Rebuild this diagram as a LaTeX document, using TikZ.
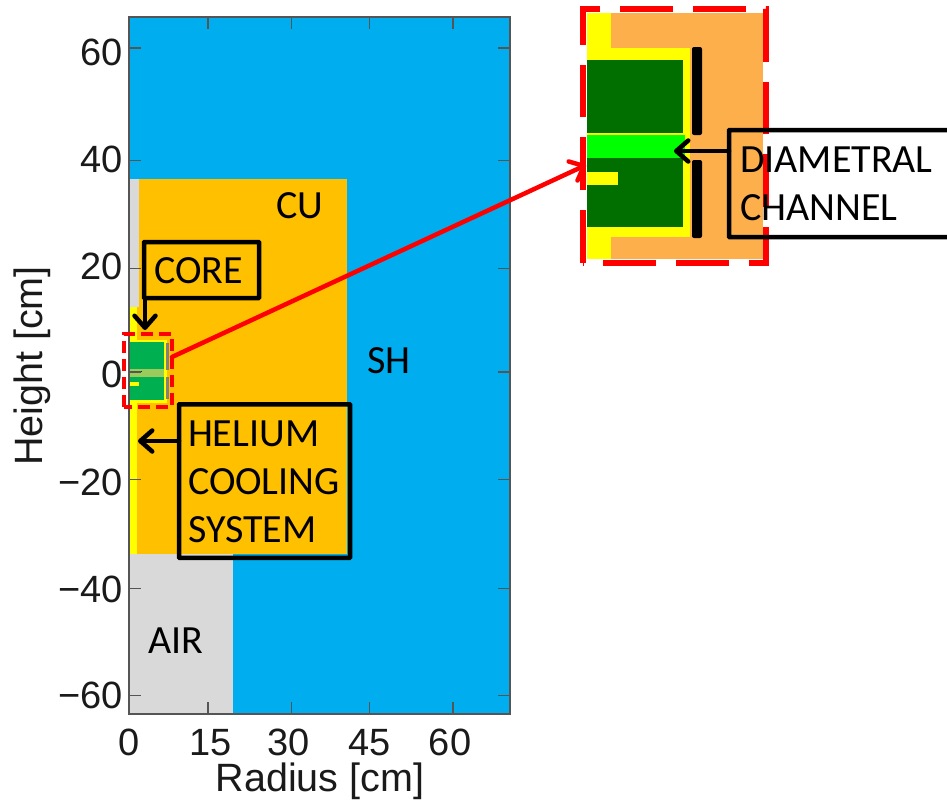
\documentclass[tikz,border=0pt]{standalone}
\usepackage{fontspec}
\setmainfont{Liberation Sans}
\newfontfamily\callout{Carlito}
\usetikzlibrary{arrows.meta}
\definecolor{shblue}{HTML}{00ADEF}
\definecolor{cuorange}{HTML}{FFC000}
\definecolor{airgrey}{HTML}{D9D9D9}
\definecolor{coregreen}{HTML}{00B050}
\definecolor{bandgreen}{HTML}{9CCB5C}
\definecolor{insetorange}{HTML}{FDAF4C}
\definecolor{insetgreen}{HTML}{006F00}
\definecolor{brightgreen}{HTML}{00FF00}
\definecolor{pureyellow}{HTML}{FFFF00}
\definecolor{purered}{HTML}{FF0000}
\definecolor{axisgrey}{HTML}{555555}
\definecolor{textdark}{HTML}{1A1A1A}
\newcommand\calline[1]{\smash{\raisebox{-13pt}{#1}}}
\tikzset{
  axis text/.style={font=\fontsize{38}{38}\selectfont, text=textdark, inner sep=0pt, outer sep=0pt},
  title text/.style={font=\fontsize{39.5}{40}\selectfont, text=textdark, inner sep=0pt, outer sep=0pt},
  ylab/.style={axis text, anchor=base east},
  xlab/.style={axis text, anchor=base},
  region text/.style={font=\callout\fontsize{40}{48}\selectfont, text=black, inner sep=0pt, anchor=base west},
  callbox/.style={draw=black, line width=4.5pt, rounded corners=0.5pt, inner sep=0pt, outer sep=0pt, align=left,
     font=\callout\fontsize{40}{48}\selectfont},
  callarrow/.style={draw=black, line width=4.5pt, line cap=round, -{Straight Barb[length=12pt,width=21pt,round]}},
  tick line/.style={draw=axisgrey, line width=1.2pt},
}
\begin{document}
\begin{tikzpicture}[x=1pt,y=-1pt]
\useasboundingbox (0,0) rectangle (947,803);
\fill[white] (0,0) rectangle (947,803);
% regions
\fill[shblue] (129,17) rectangle (510,714);
\fill[airgrey] (129,554) rectangle (233,714);
\fill[airgrey] (129,179) rectangle (139,307);
\fill[airgrey] (129,307) rectangle (130,554);
\fill[cuorange] (139,179) rectangle (347,307);
\fill[cuorange] (137,307) rectangle (347,554);
\fill[pureyellow] (130,307) rectangle (137,554);
% core (small)
\fill[pureyellow] (130,340) rectangle (166.5,402.5);
\fill[coregreen] (130,342) rectangle (164,400);
\fill[bandgreen] (130,369) rectangle (164,377);
\fill[pureyellow] (130,382) rectangle (139,386);
\draw[insetgreen!60!black, line width=0.8pt] (130,371) -- (142,371);
\fill[gray] (165.5,343) rectangle (168.5,370);
\fill[gray] (165.5,377) rectangle (168.5,399);
% axes
\draw[axisgrey, line width=1.4pt] (129,17) rectangle (510,714);
\foreach \yy in {48,160.7,268.7,372,479.7,588.3,695.7}{
  \draw[tick line] (129,\yy) -- (141,\yy);
  \draw[tick line] (510,\yy) -- (498,\yy);
}
\foreach \xx in {208,291.5,369.5,453}{
  \draw[tick line] (\xx,714) -- (\xx,702);
  \draw[tick line] (\xx,17) -- (\xx,29);
}
\node[ylab] (y60) at (123,65) {60};
\node[ylab] (y40) at (123,172) {40};
\node[ylab] (y20) at (123,279.5) {20};
\node[ylab] (y0) at (123,387) {0};
\node[ylab] (ym20) at (123,495) {−20};
\node[ylab] (ym40) at (123,602) {−40};
\node[ylab] (ym60) at (123,708.5) {−60};
\node[xlab] (x0) at (129,755) {0};
\node[xlab] (x15) at (211,755) {15};
\node[xlab] (x30) at (289,755) {30};
\node[xlab] (x45) at (370,755) {45};
\node[xlab] (x60) at (450,755) {60};
\node[title text, anchor=base] (xtitle) at (320,791.5) {Radius [cm]};
\node[title text, anchor=base, rotate=90] (ytitle) at (42,366) {Height [cm]};
% inset image
\fill[insetorange] (587,13) rectangle (763,259);
\fill[pureyellow] (587,13) rectangle (611,259);
\fill[pureyellow] (587,48) rectangle (690,237);
\fill[insetgreen] (587,60) rectangle (683,133);
\fill[insetgreen] (587,158) rectangle (683,227);
\fill[brightgreen] (587,135) rectangle (685,158);
\fill[pureyellow] (587,172) rectangle (618,185);
\fill[black, rounded corners=2pt] (692,47) rectangle (702,135);
\fill[black, rounded corners=2pt] (692,160) rectangle (702,238);
% labels in regions
\node[region text] (cu) at (276,218) {CU};
\node[region text] (sh) at (367,373) {SH};
\node[region text] (air) at (148,653) {AIR};
% zoom frames
\node[minimum width=48pt, minimum height=73pt, inner sep=0pt, outer sep=0pt] (zoomsmall) at (148,370.5) {};
\draw[purered, line width=4pt, dash pattern=on 12pt off 6pt]
  (zoomsmall.south west) -- (zoomsmall.north west) -- (zoomsmall.north east) -- (zoomsmall.south east) -- cycle;
\node[minimum width=183pt, minimum height=254pt, inner sep=0pt, outer sep=0pt] (zoombig) at (674.5,136) {};
\draw[purered, line width=6pt, dash pattern=on 52.8pt off 20pt]
  (zoombig.south west) -- (zoombig.north west) -- (zoombig.north east) -- (zoombig.south east) -- cycle;
\coordinate (zoomfrom) at (172,357);
\coordinate (zoomto) at (586,165);
\draw[draw=purered, line width=4.5pt, line cap=round, -{Straight Barb[length=12pt,width=21pt,round]}] (zoomfrom) -- (zoomto);
% callouts
\node[callbox, minimum width=115pt, minimum height=56pt, text width=95pt] (core) at (201.5,270) {\calline{CORE}};
\node[callbox, minimum width=171pt, minimum height=153.5pt, text width=153pt] (helium) at (264.5,481) {\calline{HELIUM}\\\calline{COOLING}\\\calline{SYSTEM}};
\node[callbox, minimum width=230pt, minimum height=107pt, text width=208pt] (diam) at (844,183.5) {\calline{DIAMETRAL}\\[0pt]\calline{CHANNEL}};
\coordinate (coretip) at (145,330);
\coordinate (heliumtip) at (138,441);
\coordinate (diamtip) at (674,151);
\draw[callarrow] (core.south west -| coretip) -- (coretip);
\draw[callarrow] (helium.west |- heliumtip) -- (heliumtip);
\draw[callarrow] (diam.west |- diamtip) -- (diamtip);
\end{tikzpicture}
\end{document}
